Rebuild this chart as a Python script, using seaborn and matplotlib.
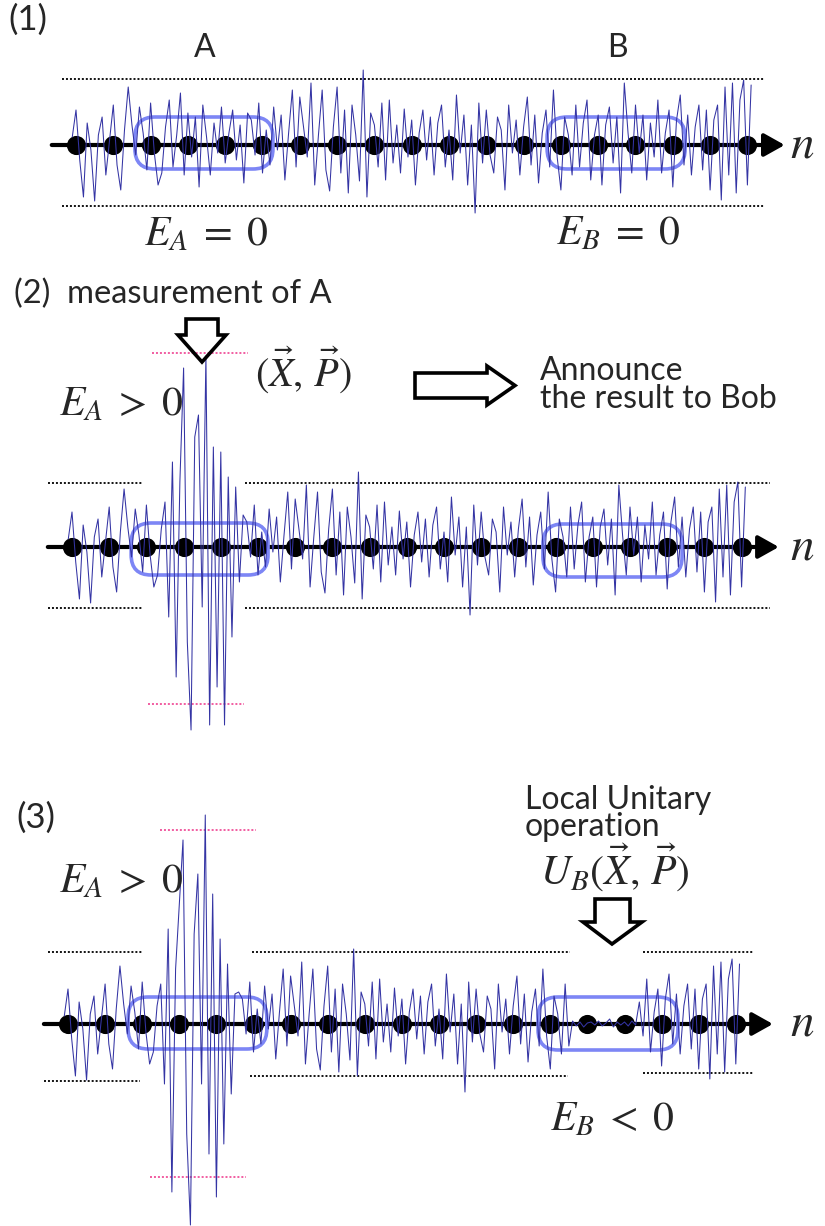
import numpy as np
import matplotlib
matplotlib.use("Agg")
import matplotlib.pyplot as plt
import seaborn as sns
from matplotlib.patches import FancyBboxPatch, Polygon

sns.set_style("white")
plt.rcParams['font.family'] = ['Lato', 'DejaVu Sans']
plt.rcParams['mathtext.fontset'] = 'stix'

# ---------------------------------------------------------
# DATA
# ---------------------------------------------------------
sites = list(range(19))            # lattice sites n = 0..18
noise_start = -0.1                 # first noise sample (lattice units)
noise_step = 0.1                   # spacing between noise samples

# vacuum fluctuation (1), offset in px (up = positive)
noise_base = [
    8, 35, -15, -52, 22, -5, -56, 10, 28, -30, 5, 40, -20,
    -45, 15, 58, 20, -10, 38, 12, -25, 42, -8, -40, -28, 18,
    45, -22, 10, 52, -30, 32, -12, 28, -42, 40, 8, -30, 22,
    -8, 38, -18, 12, 35, -15, 20, -38, 32, 25, -10, 42, -28,
    15, -20, 38, -5, 30, -35, 12, 55, -22, 48, 18, -12, 62,
    -40, 10, 55, -25, -46, 18, 58, -28, 35, -48, 40, 10, -36,
    75, -52, 32, 20, -22, 42, -35, 45, -18, 20, -28, 36, -12,
    25, -40, 12, 35, -15, 28, -30, 22, 40, -22, 15, -35, 50,
    -8, 30, -40, 20, -68, 42, -18, 35, -10, -28, 28, 15, -45,
    40, -8, 25, -30, 18, 48, -20, 30, -38, 12, 35, -22, 55,
    -12, -45, 28, 10, -30, 40, -22, 22, 45, -35, 10, 30, -40,
    20, 38, -18, 28, -48, 62, 12, -28, 40, -8, 30, -35, 22,
    -12, 45, -28, 12, 35, -42, 25, 50, -20, 30, -30, 18, 40,
    -25, 35, -45, 25, 40, -55, 58, -30, 62, -48, 45, 65, -40,
    60,
]

# region A after the measurement (samples 26..46)
a_slice = (26, 47)
noise_a_p2 = [45, -70, 85, -130, 65, 179, -95, -183, 110, 132, -60,
              191, -178, 100, -140, 95, -178, 70, -90, 60, -35]
noise_a_p3 = [40, -60, 95, -168, 55, 120, 184, -110, -201, 90, 150,
              -60, 209, -130, 130, -173, 85, -120, 60, -70, 30]

# region B after the local unitary operation (samples 137..154)
b_slice = (137, 155)
noise_b_p3 = [3, -2, 2, -3, 1, 2, -1, 3, -2, 1, 5, -3, 2, -1, 2, -2, 3, -1]

noise_p1 = list(noise_base)
noise_p2 = list(noise_base)
noise_p2[a_slice[0]:a_slice[1]] = noise_a_p2
noise_p3 = list(noise_base)
noise_p3[a_slice[0]:a_slice[1]] = noise_a_p3
noise_p3[b_slice[0]:b_slice[1]] = noise_b_p3

noise_x = noise_start + noise_step * np.arange(len(noise_base))

# ---------------------------------------------------------
# LAYOUT (pixel geometry of each panel)
# ---------------------------------------------------------
W, H = 825, 1226
fig = plt.figure(figsize=(W / 100, H / 100), dpi=100)

panels = [
    # band top, band bottom, axis y, x of site 0, site spacing
    dict(top=0, bot=265, axis=145, x0=76, sp=37.3, noise=noise_p1),
    dict(top=265, bot=760, axis=547, x0=72, sp=37.2, noise=noise_p2),
    dict(top=760, bot=1226, axis=1024, x0=68, sp=37.1, noise=noise_p3),
]

BLUE = '#3434a4'
BOX = '#7d86f5'
PINK = '#f0509a'


def make_axes(p):
    ax = fig.add_axes([0, 1 - p['bot'] / H, 1, (p['bot'] - p['top']) / H])
    ax.set_xlim(-p['x0'] / p['sp'], (W - p['x0']) / p['sp'])
    ax.set_ylim(p['axis'] - p['bot'], p['axis'] - p['top'])
    ax.axis('off')
    return ax


def draw_chain(ax, p, boxes):
    # axis with arrow
    ax.annotate('', xy=(19.0, 0), xytext=(-0.65, 0),
                arrowprops=dict(arrowstyle='-|>,head_length=0.5,head_width=0.28',
                                lw=3, color='black', mutation_scale=25,
                                shrinkA=0, shrinkB=0), zorder=2)
    sns.scatterplot(x=sites, y=[0] * len(sites), s=190, color='black',
                    edgecolor='black', linewidth=0, ax=ax, zorder=3, legend=False)
    for (x1, x2, y1, y2) in boxes:
        r = 20 / p['sp']
        patch = FancyBboxPatch((x1, y1), x2 - x1, y2 - y1,
                               boxstyle=f"round,pad=0,rounding_size={r}",
                               mutation_aspect=p['sp'], fill=False,
                               edgecolor=BOX, lw=2.6, zorder=4)
        ax.add_patch(patch)
    sns.lineplot(x=noise_x, y=p['noise'], sort=False, estimator=None,
                 color=BLUE, linewidth=0.75, solid_joinstyle='round',
                 ax=ax, zorder=5)


def bounds(ax, segs, color='black'):
    for (y, x1, x2) in segs:
        ax.hlines(y, x1, x2, colors=color, linestyles=(0, (1.1, 1.1)), lw=1.3, zorder=1)


# ---- panel 1 ----
ax1 = make_axes(panels[0])
draw_chain(ax1, panels[0], [(1.58, 5.28, -24, 28), (12.63, 16.33, -24, 28)])
bounds(ax1, [(66, -0.38, 18.47), (-61, -0.38, 18.47)])

# ---- panel 2 ----
ax2 = make_axes(panels[1])
draw_chain(ax2, panels[1], [(1.59, 5.27, -28, 24), (12.66, 16.4, -30, 23)])
bounds(ax2, [(64, -0.65, 1.91), (-61, -0.65, 1.91),
             (64, 4.65, 18.76), (-61, 4.65, 18.76)])
bounds(ax2, [(194, 2.15, 4.73), (-157, 2.04, 4.62)], color=PINK)

# ---- panel 3 ----
ax3 = make_axes(panels[2])
draw_chain(ax3, panels[2], [(1.62, 5.36, -25, 27), (12.67, 16.44, -26, 27)])
bounds(ax3, [(72, -0.54, 2.02), (-57, -0.65, 1.94),
             (72, 4.96, 13.53), (-52, 4.91, 13.48),
             (72, 15.5, 18.46), (-49, 15.5, 18.46)])
bounds(ax3, [(194, 2.48, 5.07), (-153, 2.21, 4.8)], color=PINK)

# ---------------------------------------------------------
# OVERLAY: labels and hollow arrows (pixel coordinates)
# ---------------------------------------------------------
ov = fig.add_axes([0, 0, 1, 1])
ov.set_xlim(0, W)
ov.set_ylim(H, 0)
ov.axis('off')
ov.patch.set_alpha(0)

SANS = 23
MATH = 30


def sans(x, y, s, ha='left', size=SANS):
    ov.text(x, y, s, fontsize=size, ha=ha, va='baseline')


def math(x, y, s, size=MATH, ha='center'):
    ov.text(x, y, s, fontsize=size, ha=ha, va='baseline')


sans(8, 30, '(1)', size=25)
sans(205, 57, 'A', ha='center')
sans(617, 57, 'B', ha='center')
math(206, 245, '$E_A\\;=\\;0$')
math(618, 244, '$E_B\\;=\\;0$')

sans(14, 303, '(2)  measurement of A', size=23.5)
math(303, 387, '$(\\vec{X},\\,\\vec{P})$', size=29)
math(121, 415, '$E_A\\;>\\;0$')
sans(540, 380, 'Announce')
sans(540, 408, 'the result to Bob')

sans(16, 828, '(3)', size=25)
math(121, 892, '$E_A\\;>\\;0$')
sans(525, 809, 'Local Unitary')
sans(525, 836, 'operation')
math(615, 885, '$U_B(\\vec{X},\\,\\vec{P})$', size=30)
math(612, 1130, '$E_B\\;<\\;0$')

for yb in (157, 560, 1035):
    math(802, yb, '$n$', size=34)

arrows = [
    [(186, 319), (218, 319), (218, 335), (226, 335), (202, 362), (178, 335), (186, 335)],
    [(415, 373), (487, 373), (487, 366), (515, 385.5), (487, 405), (487, 398), (415, 398)],
    [(595, 899), (630, 899), (630, 922), (642, 922), (612, 944), (583, 922), (595, 922)],
]
for pts in arrows:
    ov.add_patch(Polygon(pts, closed=True, fill=False, edgecolor='black',
                         lw=2.6, joinstyle='miter'))

fig.savefig('out.png', dpi=100)
